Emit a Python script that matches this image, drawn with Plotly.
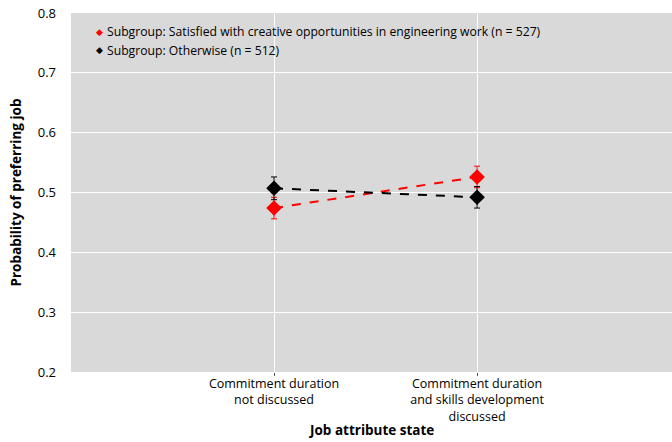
import plotly.graph_objects as go

# Job attribute states (x categories)
categories = ["Commitment duration<br>not discussed",
              "Commitment duration<br>and skills development<br>discussed"]
x_pos = [0, 1]

# Subgroup estimates and error half-widths
satisfied_prob = [0.474, 0.526]
satisfied_err = [0.018, 0.018]
otherwise_prob = [0.507, 0.492]
otherwise_err = [0.019, 0.018]

legend_labels = ["Subgroup: Satisfied with creative opportunities in engineering work (n = 527)",
                 "Subgroup: Otherwise (n = 512)"]
y_ticks = [0.2, 0.3, 0.4, 0.5, 0.6, 0.7, 0.8]

FONT = "Open Sans, sans-serif"
BG = "#D9D9D9"
L, T, B = 71, 13, 372          # plot-area edges in pixels
PH = B - T

fig = go.Figure()

for probs, errs, color in [(satisfied_prob, satisfied_err, "#FF0000"),
                           (otherwise_prob, otherwise_err, "#000000")]:
    fig.add_trace(go.Scatter(
        x=x_pos, y=probs, mode="lines+markers",
        line=dict(color=color, width=2, dash="dash"),
        marker=dict(symbol="diamond", size=12, color=color),
        error_y=dict(type="data", array=errs, visible=True,
                     color=color, thickness=1, width=3),
        showlegend=False,
    ))

# Legend box (same fill as the plot area, covering the gridlines)
fig.add_shape(type="rect", xref="paper", yref="paper",
              x0=0.025, x1=0.79, y0=(B - 60) / PH, y1=(B - 22) / PH,
              fillcolor=BG, line=dict(width=0), layer="between")

for i, (label, color) in enumerate(zip(legend_labels, ["#FF0000", "#000000"])):
    yy = (B - (32 + 18 * i)) / PH
    fig.add_annotation(xref="paper", yref="paper", x=(99 - L) / 601, y=yy,
                       text="◆", showarrow=False, xanchor="center", yanchor="middle",
                       font=dict(family="DejaVu Sans", size=9, color=color))
    fig.add_annotation(xref="paper", yref="paper", x=(105 - L) / 601, y=yy,
                       text=label, showarrow=False, xanchor="left", yanchor="middle",
                       font=dict(family=FONT, size=12.2, color="#000000"))

# Axis titles
fig.add_annotation(xref="paper", yref="paper", x=0.5, y=(B - 430) / PH,
                   text="<b>Job attribute state</b>", showarrow=False,
                   xanchor="center", yanchor="middle", font=dict(family=FONT, size=13.5))
fig.add_annotation(xref="paper", yref="paper", x=(15 - L) / 601, y=0.5,
                   text="<b>Probability of preferring job</b>", showarrow=False, textangle=-90,
                   xanchor="center", yanchor="middle", font=dict(family=FONT, size=13.5))

fig.update_layout(
    width=672, height=442,
    margin=dict(l=L, r=0, t=T, b=442 - B),
    paper_bgcolor="white", plot_bgcolor=BG,
    font=dict(family=FONT, size=12.5, color="#000000"),
    xaxis=dict(
        range=[-1, 1.96], tickvals=x_pos, ticktext=categories,
        showgrid=True, gridcolor="white", gridwidth=1, zeroline=False,
        ticks="outside", ticklen=3, tickcolor="#595959",
        ticklabelstandoff=-3, automargin=False,
    ),
    yaxis=dict(
        range=[0.2, 0.8], tickvals=y_ticks, tickformat=".1f",
        showgrid=True, gridcolor="white", gridwidth=1, zeroline=False,
        ticks="", ticklabelstandoff=14, automargin=False,
        tickfont=dict(size=13),
    ),
)

fig.write_html("out.html")
